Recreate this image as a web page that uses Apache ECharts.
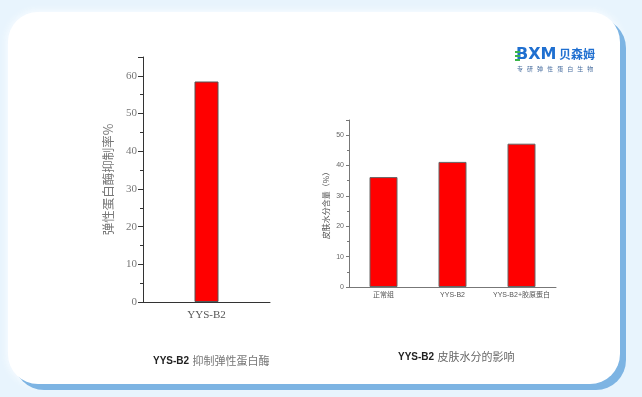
<!DOCTYPE html>
<html>
<head>
<meta charset="utf-8">
<script src="https://cdn.jsdelivr.net/npm/echarts@6/dist/echarts.min.js"></script>
<style>
html, body {
  margin: 0;
  padding: 0;
  width: 642px;
  height: 397px;
  background: #e8f4fd;
  overflow: hidden;
}
.card {
  position: absolute;
  left: 8px;
  top: 12px;
  width: 612px;
  height: 372px;
  background: #fff;
  border-radius: 30px;
  box-shadow: 6px 6px 0 #7db4e3, 0 0 6px 2px #f6fbff;
}
#chart {
  position: absolute;
  left: 0;
  top: 0;
  width: 642px;
  height: 397px;
}
</style>
</head>
<body>
<div class="card"></div>
<div id="chart"></div>
<script>
// 弹性蛋白酶抑制率
var leftCategories = ['YYS-B2'];
var leftValues = [58.5];
// 皮肤水分含量
var rightCategories = ['正常组', 'YYS-B2', 'YYS-B2+胶原蛋白'];
var rightValues = [36.2, 41.2, 47.2];

var serif = '"Liberation Serif", "DejaVu Serif", "Noto Sans CJK SC", serif';
var sans = '"Liberation Sans", "Noto Sans CJK SC", sans-serif';

var chart = echarts.init(document.getElementById('chart'));
chart.setOption({
  backgroundColor: 'transparent',
  animation: false,
  grid: [
    {left: 143, top: 57, width: 127, height: 245},
    {left: 349, top: 120, width: 207, height: 167}
  ],
  xAxis: [
    {
      gridIndex: 0,
      type: 'category',
      data: leftCategories,
      axisLine: {lineStyle: {color: '#333', width: 1}},
      axisTick: {alignWithLabel: true, length: 5, lineStyle: {color: '#333'}},
      axisLabel: {color: '#555', fontFamily: serif, fontSize: 11, margin: 8}
    },
    {
      gridIndex: 1,
      type: 'category',
      data: rightCategories,
      axisLine: {lineStyle: {color: '#777', width: 1}},
      axisTick: {alignWithLabel: true, length: 3, lineStyle: {color: '#777'}},
      axisLabel: {color: '#555', fontFamily: sans, fontSize: 7, margin: 5, interval: 0}
    }
  ],
  yAxis: [
    {
      gridIndex: 0,
      type: 'value',
      min: 0,
      max: 65,
      interval: 10,
      name: '弹性蛋白酶抑制率%',
      nameLocation: 'middle',
      nameGap: 28,
      nameTextStyle: {color: '#777', fontFamily: '"Noto Sans CJK SC", serif', fontSize: 12.5},
      splitLine: {show: false},
      axisLine: {show: true, lineStyle: {color: '#333', width: 1}},
      axisTick: {show: true, length: 5, lineStyle: {color: '#333'}},
      minorTick: {show: true, splitNumber: 2, length: 3, lineStyle: {color: '#333'}},
      axisLabel: {color: '#777', fontFamily: serif, fontSize: 11, margin: 6, showMaxLabel: false}
    },
    {
      gridIndex: 1,
      type: 'value',
      min: 0,
      max: 55,
      interval: 10,
      name: '皮肤水分含量（%）',
      nameLocation: 'middle',
      nameGap: 19,
      nameTextStyle: {color: '#555', fontFamily: '"Noto Sans CJK SC", serif', fontSize: 8},
      splitLine: {show: false},
      axisLine: {show: true, lineStyle: {color: '#777', width: 1}},
      axisTick: {show: true, length: 3, lineStyle: {color: '#777'}},
      minorTick: {show: true, splitNumber: 2, length: 2, lineStyle: {color: '#777'}},
      axisLabel: {color: '#666', fontFamily: sans, fontSize: 7, margin: 5, showMaxLabel: false}
    }
  ],
  series: [
    {
      type: 'bar',
      xAxisIndex: 0,
      yAxisIndex: 0,
      data: leftValues,
      barWidth: 24,
      itemStyle: {color: '#ff0000', borderColor: '#555', borderWidth: 1}
    },
    {
      type: 'bar',
      xAxisIndex: 1,
      yAxisIndex: 1,
      data: rightValues,
      barWidth: 28,
      itemStyle: {color: '#ff0000', borderColor: '#666', borderWidth: 1}
    }
  ],
  graphic: [
    // 图表标题
    {
      type: 'text',
      left: 153,
      top: 355,
      style: {
        text: '{a|YYS-B2} {b|抑制弹性蛋白酶}',
        rich: {
          a: {fontFamily: sans, fontWeight: 'bold', fontSize: 10, fill: '#222'},
          b: {fontFamily: '"Noto Sans CJK SC"', fontSize: 11, fill: '#777'}
        }
      }
    },
    {
      type: 'text',
      left: 398,
      top: 351,
      style: {
        text: '{a|YYS-B2} {b|皮肤水分的影响}',
        rich: {
          a: {fontFamily: sans, fontWeight: 'bold', fontSize: 10, fill: '#222'},
          b: {fontFamily: '"Noto Sans CJK SC"', fontSize: 11, fill: '#666'}
        }
      }
    },
    // logo
    {
      type: 'text',
      left: 516,
      top: 47,
      style: {text: 'BXM', fontFamily: '"DejaVu Sans", sans-serif', fontWeight: 'bold', fontSize: 16, fill: '#1f6fd0'}
    },
    {type: 'rect', shape: {x: 515, y: 51, width: 5, height: 2}, style: {fill: '#3cb54a'}},
    {type: 'rect', shape: {x: 515, y: 55, width: 5, height: 2}, style: {fill: '#3cb54a'}},
    {type: 'rect', shape: {x: 515, y: 59, width: 5, height: 2}, style: {fill: '#3cb54a'}},
    {
      type: 'text',
      left: 559,
      top: 48,
      style: {text: '贝森姆', fontFamily: '"Noto Sans CJK SC"', fontWeight: 'bold', fontSize: 12, fill: '#1f6fd0'}
    },
    {
      type: 'text',
      left: 517,
      top: 66,
      style: {text: '专   研   弹   性   蛋   白   生   物', fontFamily: '"Noto Sans CJK SC"', fontSize: 6, fill: '#4a6fa0'}
    }
  ]
});
</script>
</body>
</html>
